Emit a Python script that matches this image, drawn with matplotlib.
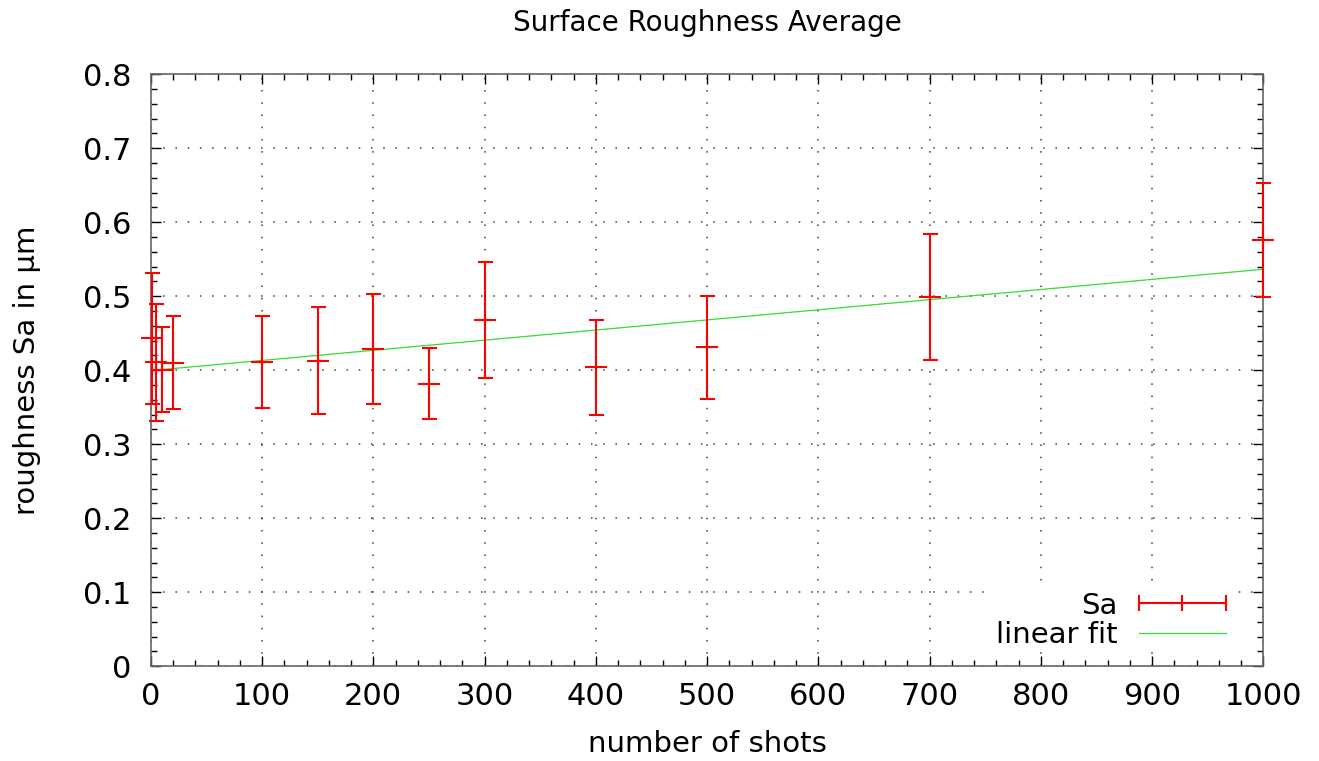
import numpy as np
import matplotlib
matplotlib.use("Agg")
import matplotlib.pyplot as plt
from matplotlib.lines import Line2D
from matplotlib.ticker import MultipleLocator

# data
shots = [1, 5, 10, 20, 100, 150, 200, 250, 300, 400, 500, 700, 1000]
sa_mean = [0.443, 0.411, 0.401, 0.410, 0.411, 0.413, 0.429, 0.382, 0.468, 0.404, 0.431, 0.499, 0.576]
sa_err = [0.088, 0.079, 0.058, 0.063, 0.062, 0.072, 0.074, 0.048, 0.078, 0.064, 0.070, 0.085, 0.077]

# linear fit parameters (intercept, slope) as shown
fit_a = 0.3996
fit_b = 0.0001369

plt.rcParams['font.family'] = 'DejaVu Sans'

fig = plt.figure(figsize=(13.19, 7.61), dpi=100)
ax = fig.add_axes([0.1143, 0.1245, 0.8435, 0.7779])

ax.set_xlim(0, 1000)
ax.set_ylim(0, 0.8)

# grid
ax.grid(True, which='major', color='0.25', linestyle=(0, (1, 7)), linewidth=1.1)
ax.set_axisbelow(True)

# fit line over the whole x range
xf = np.linspace(0, 1000, 200)
ax.plot(xf, fit_a + fit_b * xf, color='#33dd33', lw=0.9, zorder=3)

# error bars
ax.errorbar(shots, sa_mean, yerr=sa_err, fmt='none', ecolor='red',
            elinewidth=1.5, capsize=5.4, capthick=1.5, clip_on=False, zorder=4)
ax.plot(shots, sa_mean, linestyle='none', marker='+', markersize=16.5,
        markeredgewidth=1.5, color='red', clip_on=False, zorder=4)

# ticks, gnuplot-like (inside, mirrored)
ax.xaxis.set_major_locator(MultipleLocator(100))
ax.xaxis.set_minor_locator(MultipleLocator(20))
ax.yaxis.set_major_locator(MultipleLocator(0.1))
ax.yaxis.set_minor_locator(MultipleLocator(0.02))
ax.tick_params(which='both', direction='in', top=True, right=True, color='black')
ax.tick_params(which='major', length=7.2, width=1.0, labelsize=22)
ax.tick_params(which='minor', length=4, width=1.0)
ax.tick_params(axis='y', pad=14)
ax.tick_params(axis='x', pad=11)
ax.set_yticks(np.arange(0, 0.81, 0.1))
ax.set_yticklabels(['0', '0.1', '0.2', '0.3', '0.4', '0.5', '0.6', '0.7', '0.8'])

for s in ax.spines.values():
    s.set_color('0.4')
    s.set_linewidth(1.2)

ax.set_title('Surface Roughness Average', fontsize=20, pad=31)
ax.set_xlabel('number of shots', fontsize=21, labelpad=14)
ax.set_ylabel('roughness Sa in µm', fontsize=21, labelpad=30)

handles = [
    Line2D([], [], color='red', lw=1.5, marker='|', markersize=11.5, markeredgewidth=1.5),
    Line2D([], [], color='#33dd33', lw=0.9),
]
leg = ax.legend(handles, ['Sa', 'linear fit'], loc='lower right', bbox_to_anchor=(0.977, 0.024),
                borderaxespad=0, borderpad=0.1, numpoints=3, markerfirst=False,
                handlelength=3.6, handletextpad=0.42, labelspacing=0.05,
                frameon=True, fancybox=False, fontsize=21)
leg.get_frame().set_edgecolor('none')
leg.get_frame().set_facecolor('white')
leg.get_frame().set_alpha(1)
leg.set_zorder(5)

fig.savefig('out.png', dpi=100)
